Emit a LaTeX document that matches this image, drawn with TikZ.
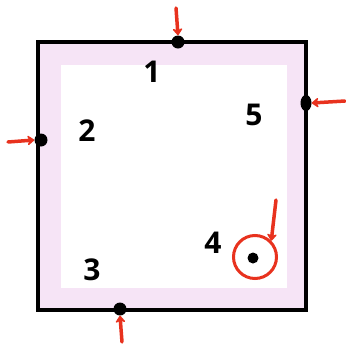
\documentclass[tikz,border=0pt]{standalone}
\usepackage{fontspec}
\setmainfont{Open Sans}
\usetikzlibrary{arrows.meta,shapes.geometric}
\definecolor{pinkband}{HTML}{F6E4F6}
\definecolor{redpen}{HTML}{E8321E}
\tikzset{
  dot/.style={circle,fill=black,inner sep=0pt,minimum size=13pt},
  lbl/.style={font=\fontsize{30}{30}\selectfont\bfseries,inner sep=0pt},
  redarrow/.style={draw=redpen,line width=3.5pt,line cap=round,-{Stealth[length=8pt,width=12pt,round]}}
}
\begin{document}
\begin{tikzpicture}[x=1pt,y=-1pt]
\useasboundingbox (0,0) rectangle (346,346);
% pink band
\fill[pinkband] (38,42) rectangle (306,310);
\fill[white] (61,65) rectangle (287,288);
% frame
\draw[line width=4pt] (38,42) rectangle (306,310);
% dots
\node[dot] (d1) at (178,42) {};
\node[ellipse,fill=black,inner sep=0pt,minimum width=11pt,minimum height=16pt] (d5) at (306,103) {};
\node[dot] (d2) at (41,140) {};
\node[dot] (d3) at (120,309) {};
\node[dot,minimum size=11pt] (dc) at (253,258) {};
\node[draw=redpen,line width=3pt,circle,minimum size=43pt,inner sep=0pt] (rc) at (255,257) {};
% arrow tails
\coordinate (t1) at (176,8);
\coordinate (t5) at (345,101);
\coordinate (t2) at (8,142);
\coordinate (t3) at (122,342);
\coordinate (tc) at (276,200);
\draw[redarrow] (t1) -- (d1.north);
\draw[redarrow] (t5) -- (d5.east);
\draw[redarrow] (t2) -- (d2.west);
\draw[redarrow] (t3) -- (d3.south);
\draw[redarrow] (tc) -- (rc.north east);
% labels
\node[lbl] (l1) at (152,72) {1};
\node[lbl] (l5) at (254,115) {5};
\node[lbl] (l2) at (87,131) {2};
\node[lbl] (l3) at (92,270) {3};
\node[lbl] (l4) at (213,243) {4};
\end{tikzpicture}
\end{document}
